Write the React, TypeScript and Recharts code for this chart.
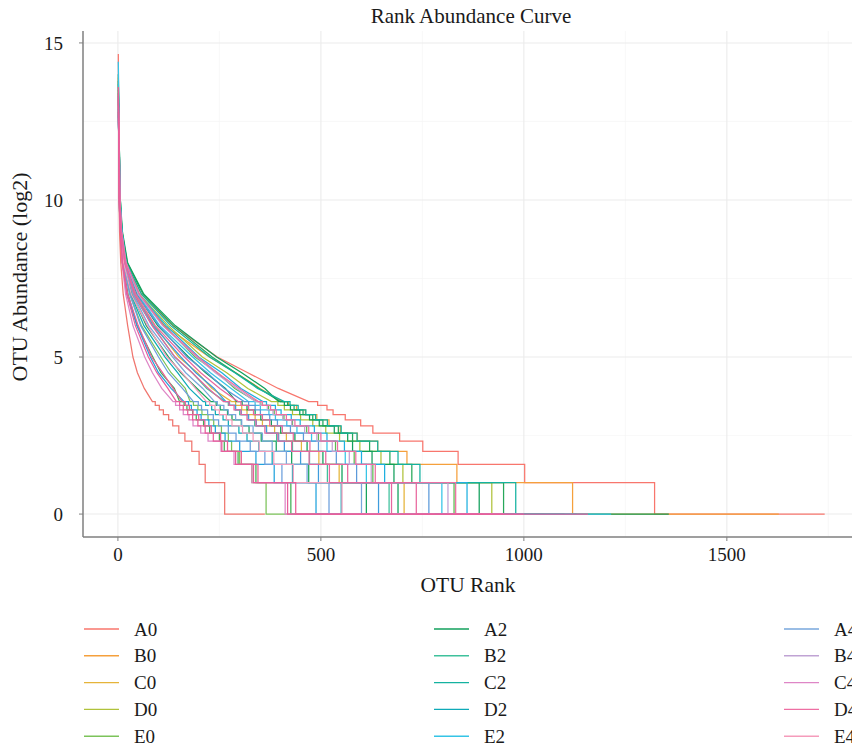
import React from 'react';
import { LineChart, Line, XAxis, YAxis, CartesianGrid } from 'recharts';

// log2 abundance levels: smooth part (12 .. 3.58) then stair-step part (3.46 .. 0)
const LEVELS = [12, 10, 9, 8, 7, 6, 5, 4.5, 4, 3.58, 3.46, 3.32, 3.17, 3, 2.81, 2.58, 2.32, 2, 1.58, 1, 0];
const STEP_FROM = 10;

const SAMPLES = [
  'A0', 'B0', 'C0', 'D0', 'E0', 'A1', 'B1', 'C1', 'D1', 'E1',
  'A2', 'B2', 'C2', 'D2', 'E2', 'A3', 'B3', 'C3', 'D3', 'E3',
  'A4', 'B4', 'C4', 'D4', 'E4', 'A5', 'B5', 'C5', 'D5', 'E5',
];

const COLORS = [
  '#F8766D', '#F5A03C', '#E5B43A', '#B0C23B', '#7CC35A', '#5DBA50', '#3FAF55', '#27A85A', '#16A35C', '#0E9F5A',
  '#13A05C', '#3FC19C', '#14B2A0', '#0FAAB8', '#35C4E6', '#1FB0E0', '#22A3DD', '#3E9CDD', '#5C9ADA', '#6C9FDC',
  '#78A7DC', '#C0A3D4', '#DE86C6', '#EE6FA3', '#F59CBB', '#F0766F', '#E9679E', '#EC5F97', '#E7679F', '#E85E9B',
];

// value at rank 1
const PEAKS = [
  14.65, 13.9, 13.3, 13.0, 12.9, 13.5, 12.8, 13.8, 13.1, 13.4,
  14.0, 13.2, 13.7, 12.9, 14.4, 13.3, 12.7, 13.0, 13.2, 12.9,
  13.0, 13.1, 12.6, 13.4, 13.0, 13.2, 13.2, 12.8, 13.3, 13.6,
];

// number of OTUs (last rank)
const ENDS = [
  1741, 1628, 900, 1000, 700, 1050, 650, 1100, 800, 900,
  1357, 850, 1130, 760, 1215, 1000, 700, 850, 950, 750,
  800, 950, 650, 1000, 780, 362, 950, 680, 900, 1158,
];

// rank at which each sample reaches each level in LEVELS
const A0 = [2, 5, 10, 21, 58, 135, 245, 320, 395, 470, 492, 515, 530, 560, 598, 628, 694, 751, 838, 1002, 1322];
const B0 = [2, 5, 9, 19, 50, 115, 225, 290, 350, 405, 420, 440, 462, 490, 520, 548, 590, 640, 712, 835, 1120];
const C0 = [2, 4, 8, 15, 42, 90, 150, 196, 232, 280, 290, 305, 318, 338, 356, 386, 415, 452, 495, 545, 705];
const D0 = [3, 5, 10, 20, 53, 124, 208, 268, 320, 378, 394, 410, 430, 450, 480, 512, 546, 596, 648, 702, 921];
const E0 = [2, 4, 6, 13, 30, 58, 106, 131, 166, 178, 186, 197, 207, 222, 236, 255, 272, 280, 300, 330, 365];
const A1 = [3, 5, 9, 19, 50, 114, 190, 245, 288, 342, 352, 371, 385, 409, 430, 465, 494, 536, 582, 628, 828];
const B1 = [2, 3, 6, 11, 25, 47, 86, 106, 139, 152, 163, 170, 184, 193, 211, 226, 250, 262, 296, 340, 426];
const C1 = [3, 6, 10, 23, 62, 136, 232, 290, 348, 400, 418, 434, 456, 480, 505, 543, 578, 620, 670, 724, 950];
const D1 = [2, 4, 7, 14, 35, 70, 125, 155, 195, 229, 242, 252, 270, 281, 304, 323, 353, 390, 428, 470, 612];
const E1 = [3, 5, 9, 18, 47, 98, 174, 216, 265, 292, 306, 318, 338, 352, 378, 401, 436, 466, 505, 552, 690];
const A2 = [3, 6, 11, 24, 64, 141, 243, 305, 362, 396, 410, 425, 448, 472, 496, 533, 566, 578, 626, 680, 890];
const B2 = [2, 4, 8, 16, 38, 85, 140, 183, 219, 264, 272, 289, 300, 321, 337, 366, 391, 430, 472, 516, 668];
const C2 = [3, 6, 10, 21, 58, 130, 226, 288, 344, 410, 424, 444, 463, 487, 516, 550, 589, 640, 690, 744, 980];
const D2 = [2, 4, 7, 13, 32, 64, 116, 147, 176, 210, 216, 231, 240, 259, 272, 298, 318, 347, 380, 430, 550];
const E2 = [3, 5, 9, 19, 49, 103, 184, 228, 279, 322, 338, 351, 372, 388, 416, 441, 477, 515, 560, 612, 798];
const A3 = [3, 5, 10, 20, 52, 119, 199, 256, 303, 357, 366, 388, 402, 427, 449, 484, 515, 558, 600, 657, 860];
const B3 = [2, 3, 6, 11, 22, 47, 80, 100, 131, 163, 174, 181, 195, 205, 224, 240, 264, 300, 340, 385, 488];
const C3 = [2, 4, 8, 16, 40, 87, 155, 192, 237, 266, 275, 290, 304, 322, 341, 366, 396, 410, 450, 494, 642];
const D3 = [3, 5, 9, 18, 45, 101, 170, 220, 262, 311, 322, 338, 351, 374, 393, 425, 457, 494, 538, 588, 766];
const E3 = [2, 4, 6, 12, 29, 56, 100, 124, 159, 186, 198, 206, 221, 235, 248, 272, 291, 326, 362, 404, 520];
const A4 = [2, 4, 7, 15, 37, 76, 135, 167, 209, 238, 245, 261, 272, 290, 305, 333, 356, 380, 415, 466, 600];
const B4 = [3, 5, 9, 20, 50, 110, 194, 240, 293, 339, 350, 368, 382, 406, 428, 460, 490, 528, 570, 624, 813];
const C4 = [2, 3, 5, 10, 19, 37, 66, 85, 108, 136, 142, 152, 161, 175, 185, 204, 222, 254, 286, 330, 412];
const D4 = [3, 5, 9, 20, 53, 112, 197, 245, 299, 346, 356, 376, 390, 415, 436, 470, 500, 541, 586, 634, 832];
const E4 = [2, 4, 7, 14, 33, 73, 121, 158, 191, 218, 226, 239, 250, 267, 281, 307, 333, 348, 384, 432, 552];
const A5 = [2, 3, 4, 7, 13, 24, 37, 48, 65, 85, 92, 102, 112, 125, 135, 150, 165, 182, 200, 215, 263];
const B5 = [3, 5, 8, 17, 44, 92, 164, 204, 251, 296, 303, 322, 334, 356, 374, 405, 432, 473, 512, 566, 735];
const C5 = [2, 3, 6, 11, 24, 50, 83, 110, 136, 158, 166, 176, 185, 199, 214, 230, 253, 270, 304, 345, 438];
const D5 = [2, 4, 8, 17, 40, 84, 141, 183, 223, 260, 274, 286, 303, 318, 340, 362, 394, 428, 471, 521, 674];
const E5 = [2, 3, 6, 11, 22, 43, 75, 96, 123, 144, 152, 161, 172, 184, 197, 215, 235, 256, 290, 334, 418];

const RANKS = [
  A0, B0, C0, D0, E0, A1, B1, C1, D1, E1,
  A2, B2, C2, D2, E2, A3, B3, C3, D3, E3,
  A4, B4, C4, D4, E4, A5, B5, C5, D5, E5,
];

const X_TICKS = [0, 500, 1000, 1500];
const Y_TICKS = [0, 5, 10, 15];

function buildSeries(i: number) {
  const r = RANKS[i];
  const pts: { x: number; y: number }[] = [{ x: 1, y: PEAKS[i] }];
  for (let k = 0; k < LEVELS.length; k++) {
    if (k >= STEP_FROM) pts.push({ x: r[k], y: LEVELS[k - 1] });
    pts.push({ x: r[k], y: LEVELS[k] });
  }
  pts.push({ x: ENDS[i], y: 0 });
  return pts;
}

const FONT = '"Liberation Serif", "DejaVu Serif", serif';

export default function App() {
  const series = SAMPLES.map((name, i) => ({ name, color: COLORS[i], data: buildSeries(i) }));
  return (
    <div style={{ position: 'absolute', left: 0, top: 0, width: 852, height: 746, overflow: 'hidden', background: '#fff' }}>
      <LineChart width={900} height={600} margin={{ top: 31, right: 40, bottom: 0, left: 0 }} style={{ fontFamily: FONT }}>
        <CartesianGrid stroke="#F3F3F3" strokeWidth={0.6} verticalValues={[250, 750, 1250, 1750]} horizontalValues={[2.5, 7.5, 12.5]} />
        <CartesianGrid stroke="#EBEBEB" strokeWidth={1.1} verticalValues={X_TICKS} horizontalValues={Y_TICKS} />
        <XAxis
          dataKey="x"
          type="number"
          domain={[-86, 1828]}
          ticks={X_TICKS}
          allowDataOverflow
          height={63}
          tickSize={4}
          tickMargin={7}
          tick={{ fill: '#1a1a1a', fontSize: 19, fontFamily: FONT }}
          tickLine={{ stroke: '#7f7f7f' }}
          axisLine={{ stroke: '#7f7f7f', strokeWidth: 1.5 }}
        />
        <XAxis
          xAxisId="top"
          orientation="top"
          type="number"
          domain={[-86, 1828]}
          height={0}
          tick={false}
          tickLine={false}
          axisLine={{ stroke: '#9a9a9a', strokeWidth: 1.5 }}
        />
        <YAxis
          type="number"
          domain={[-0.73, 15.38]}
          ticks={Y_TICKS}
          allowDataOverflow
          width={83}
          tickSize={4}
          tickMargin={16}
          tick={{ fill: '#1a1a1a', fontSize: 19, fontFamily: FONT }}
          tickLine={{ stroke: '#7f7f7f' }}
          axisLine={{ stroke: '#7f7f7f', strokeWidth: 1.5 }}
        />
        {series.map((s) => (
          <Line
            key={s.name}
            name={s.name}
            data={s.data}
            dataKey="y"
            type="linear"
            stroke={s.color}
            strokeWidth={1.25}
            dot={false}
            activeDot={false}
            isAnimationActive={false}
          />
        ))}
      </LineChart>
      <svg width={900} height={900} style={{ position: 'absolute', left: 0, top: 0, pointerEvents: 'none' }} fontFamily={FONT}>
        <text x={471} y={23} textAnchor="middle" fontSize={21} fill="#1a1a1a">Rank Abundance Curve</text>
        <text x={468} y={592} textAnchor="middle" fontSize={21.5} fill="#1a1a1a">OTU Rank</text>
        <text x={0} y={0} transform="translate(27,277) rotate(-90)" textAnchor="middle" fontSize={22} fill="#1a1a1a">OTU Abundance (log2)</text>
        {series.map((s, i) => {
          const col = Math.floor(i / 10);
          const row = i % 10;
          const x0 = 84 + col * 350;
          const y = 629 + row * 26.8;
          return (
            <g key={s.name}>
              <line x1={x0} x2={x0 + 35} y1={y} y2={y} stroke={s.color} strokeWidth={1.4} />
              <text x={x0 + 50} y={y + 6.5} fontSize={19} fill="#1a1a1a">{s.name}</text>
            </g>
          );
        })}
      </svg>
    </div>
  );
}
